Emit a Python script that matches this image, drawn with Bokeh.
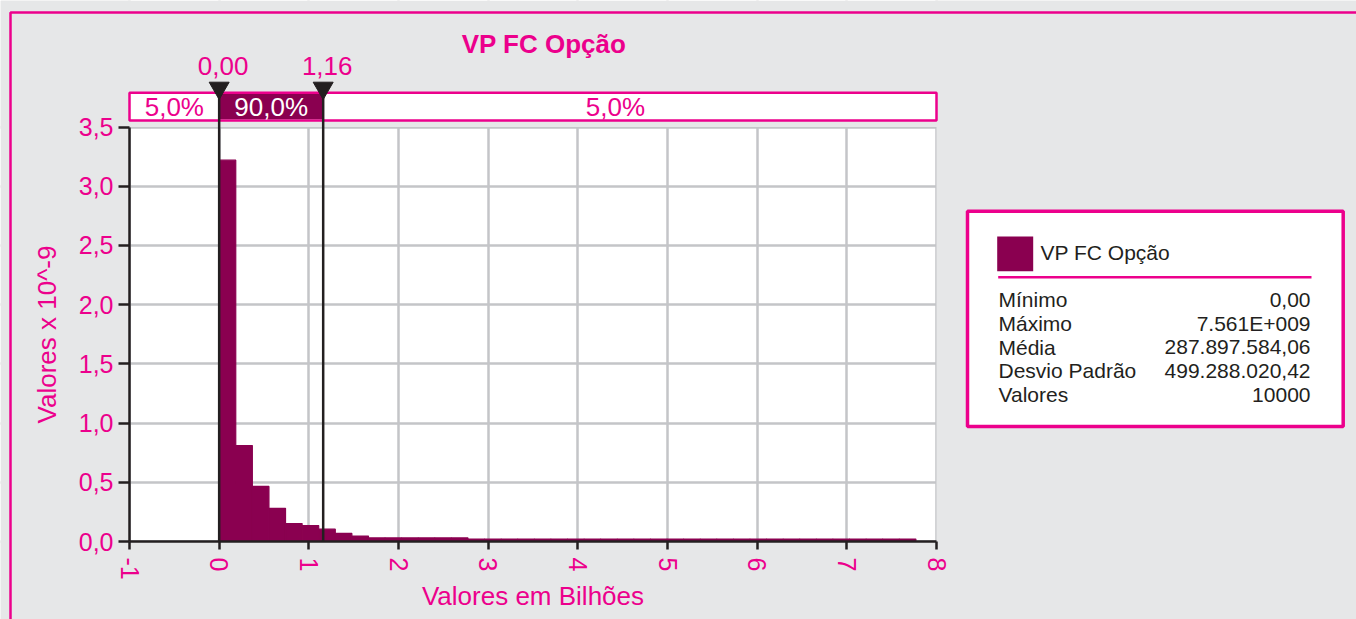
from bokeh.plotting import figure
from bokeh.models import Range1d, FixedTicker, Label, BoxAnnotation, PolyAnnotation
from bokeh.embed import file_html
from bokeh.resources import INLINE

# ---------------- data ----------------
series_name = "VP FC Opção"
bin_width = 0.185  # Bilhões
bin_heights = [3.22, 0.81, 0.465, 0.28, 0.152, 0.135, 0.104, 0.068, 0.046,
               0.030, 0.030, 0.030, 0.030, 0.030, 0.030,
               0.021, 0.021, 0.021, 0.021, 0.021, 0.021, 0.021, 0.021, 0.021,
               0.021, 0.021, 0.021, 0.021, 0.021, 0.021, 0.021, 0.021, 0.021,
               0.021, 0.021, 0.021, 0.021, 0.021, 0.021, 0.021, 0.021, 0.021]
bin_left = [i * bin_width for i in range(len(bin_heights))]
bin_right = [(i + 1) * bin_width for i in range(len(bin_heights))]

x_ticks = [-1, 0, 1, 2, 3, 4, 5, 6, 7, 8]
x_tick_labels = ["-1", "0", "1", "2", "3", "4", "5", "6", "7", "8"]
y_ticks = [0.0, 0.5, 1.0, 1.5, 2.0, 2.5, 3.0, 3.5]
y_tick_labels = ["0,0", "0,5", "1,0", "1,5", "2,0", "2,5", "3,0", "3,5"]
x_title = "Valores em Bilhões"
y_title = "Valores x 10^-9"

pct_low, pct_high = 0.00, 1.16
pct_low_label, pct_high_label = "0,00", "1,16"
band_labels = ["5,0%", "90,0%", "5,0%"]
band_label_x = [-0.5, 0.58, 4.42]

stat_names = ["Mínimo", "Máximo", "Média", "Desvio Padrão", "Valores"]
stat_values = ["0,00", "7.561E+009", "287.897.584,06", "499.288.020,42", "10000"]

# ---------------- style / layout ----------------
PINK = "#ec008c"
BAR = "#8a0050"
DARK = "#231f20"
GRID = "#c4c5c8"
BG = "#e6e7e8"
FONT = "Liberation Sans"

W, H = 1356, 619
X0, X1 = -1, 8
Y0, Y1 = 0.0, 3.5
PX_L, PX_R, PX_T, PX_B = 129, 936, 126.5, 541   # plot area on the canvas (px)
ppx = (PX_R - PX_L) / (X1 - X0)
ppy = (PX_B - PX_T) / (Y1 - Y0)

p = figure(width=W, height=H,
           x_range=Range1d(X0 - PX_L / ppx, X1 + (W - PX_R) / ppx),
           y_range=Range1d(Y0 - (H - PX_B) / ppy, Y1 + PX_T / ppy),
           output_backend="svg", toolbar_location=None, title=None,
           min_border_left=0, min_border_right=0, min_border_top=0, min_border_bottom=0,
           background_fill_color="white", border_fill_color=BG,
           outline_line_color=None)

# helpers: canvas pixel -> screen units (frame covers the whole canvas)
def sx(X):
    return X

def sy(Y):
    return H - Y

# axes placed at the plot-area edges
p.xaxis.fixed_location = Y0
p.yaxis.fixed_location = X0
p.xaxis.bounds = (X0, X1)
p.yaxis.bounds = (Y0, Y1)
p.xaxis.ticker = FixedTicker(ticks=x_ticks)
p.yaxis.ticker = FixedTicker(ticks=y_ticks)
p.xgrid.ticker = FixedTicker(ticks=x_ticks)
p.ygrid.ticker = FixedTicker(ticks=y_ticks)
p.xaxis.major_label_overrides = dict(zip(x_ticks, x_tick_labels))
p.yaxis.major_label_overrides = dict(zip(y_ticks, y_tick_labels))
p.xaxis.major_label_orientation = "vertical"
for ax in (p.xaxis[0], p.yaxis[0]):
    ax.axis_line_color = DARK
    ax.axis_line_width = 2.5
    ax.major_tick_line_color = DARK
    ax.major_tick_line_width = 2.5
    ax.minor_tick_line_color = None
    ax.major_tick_in = 0
    ax.major_label_text_color = PINK
    ax.major_label_text_font = FONT
    ax.major_label_text_font_size = "25px"
    ax.axis_label_text_color = PINK
    ax.axis_label_text_font = FONT
    ax.axis_label_text_font_size = "26px"
    ax.axis_label_text_font_style = "normal"
p.xaxis.major_tick_out = 8
p.xaxis.major_label_standoff = 8
p.yaxis.major_tick_out = 11
p.yaxis.major_label_standoff = 5
p.xaxis.axis_label = x_title
p.yaxis.axis_label = y_title
p.xaxis.axis_label_standoff = -2
p.yaxis.axis_label_standoff = 14

p.grid.grid_line_color = GRID
p.grid.grid_line_width = 2.5

# grey surround hiding grid lines outside the plot area
cover = dict(fill_color=BG, fill_alpha=1, line_alpha=0, level="underlay")
p.add_layout(BoxAnnotation(left=sx(0), right=sx(W), top=sy(0), bottom=Y1,
                           left_units="screen", right_units="screen", top_units="screen",
                           **cover))
p.add_layout(BoxAnnotation(left=sx(0), right=sx(W), top=Y0, bottom=sy(H),
                           left_units="screen", right_units="screen", bottom_units="screen",
                           **cover))
p.add_layout(BoxAnnotation(left=sx(0), right=X0, top=sy(0), bottom=sy(H),
                           left_units="screen", top_units="screen", bottom_units="screen",
                           **cover))
p.add_layout(BoxAnnotation(left=X1, right=sx(W), top=sy(0), bottom=sy(H),
                           right_units="screen", top_units="screen", bottom_units="screen",
                           **cover))

# histogram
p.quad(left=bin_left, right=bin_right, bottom=0, top=bin_heights,
       fill_color=BAR, line_color=BAR, line_width=1.2)

# outer pink border (left and top edges visible)
p.add_layout(BoxAnnotation(left=sx(10), right=sx(W + 20), top=sy(12), bottom=sy(H + 20),
                           left_units="screen", right_units="screen",
                           top_units="screen", bottom_units="screen",
                           fill_alpha=0, line_color=PINK, line_alpha=1, line_width=2.5))

# percentile strip
p.add_layout(BoxAnnotation(left=X0, right=X1, top=sy(92.2), bottom=sy(120),
                           top_units="screen", bottom_units="screen",
                           fill_color="white", fill_alpha=1,
                           line_color=PINK, line_alpha=1, line_width=2.5))
p.add_layout(BoxAnnotation(left=pct_low, right=pct_high, top=sy(93.5), bottom=sy(118.7),
                           top_units="screen", bottom_units="screen",
                           fill_color=BAR, fill_alpha=1, line_alpha=0))
for i, (txt, xv) in enumerate(zip(band_labels, band_label_x)):
    p.add_layout(Label(x=xv, y=sy(106), y_units="screen", text=txt,
                       text_font=FONT, text_font_size="26px",
                       text_color="white" if i == 1 else PINK,
                       text_align="center", text_baseline="middle"))

# percentile markers
hw = 10 / ppx
for xv, lab in ((pct_low, pct_low_label), (pct_high, pct_high_label)):
    p.add_layout(PolyAnnotation(xs=[xv, xv], ys=[sy(PX_B), sy(96)],
                                xs_units="data", ys_units="screen",
                                fill_alpha=0, line_color=DARK, line_alpha=1, line_width=2.5))
    p.add_layout(PolyAnnotation(xs=[xv - hw, xv + hw, xv], ys=[sy(81.7), sy(81.7), sy(99)],
                                xs_units="data", ys_units="screen",
                                fill_color=DARK, fill_alpha=1, line_color=DARK, line_alpha=1,
                                line_width=1))
    p.add_layout(Label(x=xv, y=sy(65), y_units="screen", x_offset=4, text=lab,
                       text_font=FONT, text_font_size="26px", text_color=PINK,
                       text_align="center", text_baseline="middle"))

# title
p.add_layout(Label(x=sx(543.5), y=sy(43), x_units="screen", y_units="screen",
                   text=series_name, text_font=FONT, text_font_size="26px",
                   text_font_style="bold", text_color=PINK,
                   text_align="center", text_baseline="middle"))

# legend / statistics box
p.add_layout(BoxAnnotation(left=sx(967), right=sx(1342.7), top=sy(210.7), bottom=sy(426),
                           left_units="screen", right_units="screen",
                           top_units="screen", bottom_units="screen",
                           fill_color="white", fill_alpha=1,
                           line_color=PINK, line_alpha=1, line_width=3.5))
p.add_layout(BoxAnnotation(left=sx(996.7), right=sx(1032.7), top=sy(236), bottom=sy(270.7),
                           left_units="screen", right_units="screen",
                           top_units="screen", bottom_units="screen",
                           fill_color=BAR, fill_alpha=1, line_alpha=0))
p.add_layout(Label(x=sx(1040), y=sy(252), x_units="screen", y_units="screen",
                   text=series_name, text_font=FONT, text_font_size="21px",
                   text_color=DARK, text_align="left", text_baseline="middle"))
p.add_layout(BoxAnnotation(left=sx(997.7), right=sx(1311), top=sy(275.5), bottom=sy(278),
                           left_units="screen", right_units="screen",
                           top_units="screen", bottom_units="screen",
                           fill_color=PINK, fill_alpha=1, line_alpha=0))
row_y = [299.3, 322.8, 346.7, 370.2, 394]
for name, val, yy in zip(stat_names, stat_values, row_y):
    p.add_layout(Label(x=sx(998), y=sy(yy), x_units="screen", y_units="screen",
                       text=name, text_font=FONT, text_font_size="21px",
                       text_color=DARK, text_align="left", text_baseline="middle"))
    p.add_layout(Label(x=sx(1310), y=sy(yy), x_units="screen", y_units="screen",
                       text=val, text_font=FONT, text_font_size="21px",
                       text_color=DARK, text_align="right", text_baseline="middle"))

open("out.html", "w").write(file_html(p, INLINE))
